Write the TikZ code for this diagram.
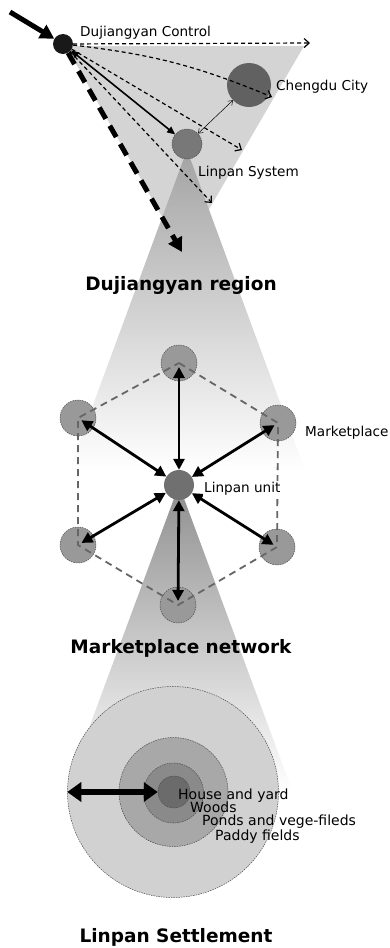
\documentclass[tikz,border=0pt]{standalone}
\usepackage{fontspec}
\setmainfont{DejaVu Sans}
\usetikzlibrary{arrows.meta, calc, positioning}
\definecolor{trigray}{gray}{0.83}
\definecolor{conetop}{gray}{0.64}
\definecolor{conelow}{gray}{0.56}
\definecolor{citygray}{gray}{0.38}
\definecolor{sysgray}{gray}{0.47}
\definecolor{mktgray}{gray}{0.60}
\definecolor{ringA}{gray}{0.82}
\definecolor{ringB}{gray}{0.66}
\definecolor{ringC}{gray}{0.54}
\definecolor{ringD}{gray}{0.42}
\definecolor{hexgray}{gray}{0.40}

\begin{document}
\begin{tikzpicture}[x=1pt, y=-1pt,
  disc/.style={circle, inner sep=0pt, minimum size=#1},
  dotdisc/.style={disc=#1, draw=black!70, line width=0.5pt, dash pattern=on 1.5pt off 1pt},
  lbl/.style={anchor=base west, inner sep=0pt, font=\fontsize{13.6}{15}\selectfont},
  ringlbl/.style={lbl, font=\fontsize{14}{15}\selectfont},
  title/.style={anchor=base, inner sep=0pt, font=\fontsize{18.5}{20}\selectfont\bfseries},
  thinflow/.style={line width=1.2pt, dash pattern=on 4pt off 3pt, -{Straight Barb[length=5pt, width=9pt]}},
  spoke/.style={line width=2.8pt, {Triangle[length=11pt, width=11pt]}-{Triangle[length=11pt, width=11pt]}, shorten >=4pt},
  hexline/.style={hexgray, line width=1.8pt, dash pattern=on 7pt off 5pt}]
\useasboundingbox (0,0) rectangle (389,948);

% fondos: triangulo de la region y conos
\fill[trigray] (66,46) -- (304,46) -- (183,254) -- cycle;
\shade[top color=conetop, bottom color=white] (187,150) -- (305,470) -- (69,470) -- cycle;
\shade[top color=conelow, bottom color=white] (179,485) -- (292,790) -- (66,790) -- cycle;

% region de Dujiangyan
\node[disc=20pt, fill=black!90] (ctrl) at (63,44) {};
\node[disc=44pt, fill=citygray] (city) at (249,85) {};
\node[dotdisc=30pt, fill=sysgray] (sys) at (187,144) {};
\coordinate (inflow) at (10,12);
\coordinate (eastend) at (310,43);
\coordinate (cityend) at (272,97);
\coordinate (midend) at (242,150);
\coordinate (lowend) at (212,203);
\coordinate (southend) at (182,252);

\draw[line width=5pt, -{Triangle[length=14pt, width=15pt]}] (inflow) -- (ctrl);
\draw[thinflow] (ctrl) -- (eastend);
\draw[thinflow] (ctrl) to[bend left=8] (cityend);
\draw[thinflow] (ctrl) -- (midend);
\draw[thinflow] (ctrl) -- (lowend);
\draw[line width=1.6pt, {Triangle[length=8pt, width=7pt]}-{Triangle[length=8pt, width=7pt]}] (ctrl) -- (sys);
\draw[line width=5pt, dash pattern=on 13pt off 8pt, -{Triangle[length=14pt, width=15pt]}] (ctrl) -- (southend);
\draw[line width=0.5pt, {Straight Barb[length=4pt, width=6pt]}-{Straight Barb[length=4pt, width=6pt]}] (city) -- (sys);

\node[lbl] (lctrl) at (80,36) {Dujiangyan Control};
\node[lbl] (lcity) at (276,90) {Chengdu City};
\node[lbl] (lsys) at (198,176) {Linpan System};
\node[title] (tregion) at (181,290) {Dujiangyan region};

% red de mercados
\node[dotdisc=36pt, fill=mktgray] (mt) at (179,363) {};
\node[dotdisc=36pt, fill=mktgray] (mul) at (78,418) {};
\node[dotdisc=36pt, fill=mktgray] (mur) at (278,423) {};
\node[dotdisc=36pt, fill=mktgray] (mll) at (78,545) {};
\node[dotdisc=36pt, fill=mktgray] (mlr) at (277,547) {};
\node[dotdisc=36pt, fill=mktgray] (mb) at (178,605) {};
\node[disc=30pt, fill=black!56] (unit) at (179,485) {};
\draw[hexline] (mt.center) -- (mur.center) -- (mlr.center) -- (mb.center) -- (mll.center) -- (mul.center) -- cycle;
\foreach \m in {mt,mul,mur,mll,mlr,mb}
  \draw[spoke] (unit) -- (\m.center);

\node[lbl, fill=white, inner sep=1pt] (lunit) at (203,492) {Linpan unit};
\node[lbl] (lmkt) at (305,436) {Marketplace};
\node[title] (tnetwork) at (181,653) {Marketplace network};

% asentamiento Linpan
\node[dotdisc=211pt, fill=ringA] (paddy) at (173,792) {};
\node[dotdisc=109pt, fill=ringB] (ponds) at (173.5,792) {};
\node[dotdisc=60pt, fill=ringC] (woods) at (173.5,793) {};
\node[dotdisc=32pt, fill=ringD] (house) at (174,792) {};
\draw[line width=6pt, {Triangle[length=14pt, width=19pt]}-{Triangle[length=14pt, width=19pt]}] (paddy.west) -- (house.west);

\node[ringlbl] (lhouse) at (178,799) {House and yard};
\node[ringlbl] (lwoods) at (190,812) {Woods};
\node[ringlbl] (lponds) at (202,825) {Ponds and vege-fileds};
\node[ringlbl] (lpaddy) at (215,840) {Paddy fields};
\node[title] (tsettle) at (176,942) {Linpan Settlement};
\end{tikzpicture}
\end{document}
